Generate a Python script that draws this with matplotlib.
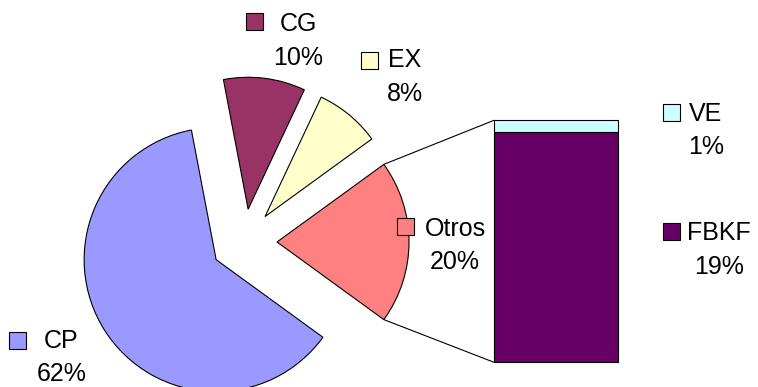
import matplotlib.pyplot as plt
from matplotlib.patches import Rectangle, ConnectionPatch

# Datos: composición del PIB por el lado del gasto
partes = ["CP", "CG", "EX", "Otros"]
valores = [62, 10, 8, 20]
colores = ["#9999FF", "#993366", "#FFFFCC", "#FF8080"]

# Desglose de "Otros" en la barra
partes_otros = ["FBKF", "VE"]
valores_otros = [19, 1]
colores_otros = ["#660066", "#CCFFFF"]

W, H = 758, 387
def py(y):
    # coordenadas en pixeles medidas desde arriba
    return H - y

fig = plt.figure(figsize=(W / 100, H / 100), dpi=100)
ax = fig.add_axes([0, 0, 1, 1])

radio = 132
centro = (244, py(242))
wedges, _ = ax.pie(valores, colors=colores, startangle=-valores[-1] * 1.8,
                   counterclock=False, radius=radio, center=centro,
                   explode=[0.25 * radio] * len(valores), frame=True,
                   wedgeprops=dict(edgecolor="black", linewidth=0.8))
ax.set_xlim(0, W)
ax.set_ylim(0, H)
ax.set_aspect("equal")
ax.axis("off")

# Barra apilada con el desglose
ax2 = fig.add_axes([494 / W, (H - 362.3) / H, 124 / W, 242 / H])
base = 0
for v, c in zip(valores_otros, colores_otros):
    ax2.bar(0, v, width=1, bottom=base, color=c, edgecolor="black",
            linewidth=0.8, clip_on=False)
    base += v
ax2.set_xlim(-0.5, 0.5)
ax2.set_ylim(0, sum(valores_otros))
ax2.axis("off")

# Líneas que unen la porción "Otros" con la barra
import numpy as np
w = wedges[-1]
cx, cy = w.center
for ang, yb in [(w.theta2, sum(valores_otros)), (w.theta1, 0)]:
    p = (cx + w.r * np.cos(np.radians(ang)), cy + w.r * np.sin(np.radians(ang)))
    con = ConnectionPatch(xyA=p, coordsA=ax.transData, xyB=(-0.5, yb),
                          coordsB=ax2.transData, color="black", linewidth=0.8)
    fig.add_artist(con)

# Etiquetas: clave + nombre, porcentaje debajo
fuente = dict(family="Liberation Sans", size=18, color="black")
etiquetas = [
    # nombre, valor, color, centro x, y1, y2, clave (x, y)
    ("CG", valores[1], colores[1], 298, 22, 56, (246, 13)),
    ("EX", valores[2], colores[2], 405, 58, 92, (361, 52)),
    ("Otros", valores[3], colores[3], 455, 227, 260, (397, 218)),
    ("CP", valores[0], colores[0], 61.5, 339, 372, (9, 332)),
    ("VE", valores_otros[1], colores_otros[1], 706, 112, 145, (663, 104)),
    ("FBKF", valores_otros[0], colores_otros[0], 719, 231, 265, (663, 223)),
]
for nombre, v, c, xc, y1, y2, (kx, ky) in etiquetas:
    ax.add_patch(Rectangle((kx, py(ky + 17)), 17, 17, facecolor=c,
                           edgecolor="black", linewidth=0.8, zorder=5))
    ax.text(xc, py(y1 + 9), nombre, ha="center", va="baseline", zorder=6, **fuente)
    ax.text(xc, py(y2 + 9), f"{v}%", ha="center", va="baseline", zorder=6, **fuente)

fig.savefig("out.png", dpi=100)
